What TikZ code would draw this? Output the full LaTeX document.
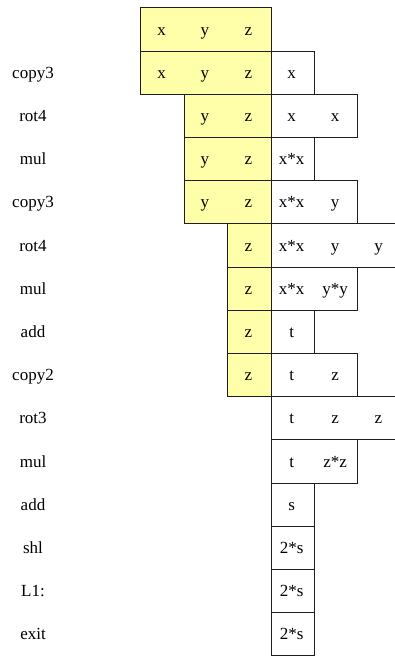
\documentclass[tikz,border=0pt]{standalone}
\usepackage{fontspec}
\setmainfont{Liberation Serif}
\definecolor{yfill}{RGB}{255,255,170}
\definecolor{edge}{RGB}{30,30,30}
\begin{document}
\begin{tikzpicture}[x=1pt,y=-1pt,
  ybox/.style={draw=edge, fill=yfill, line width=1.1pt, minimum height=43.2pt, inner sep=0pt, anchor=north west},
  wbox/.style={draw=edge, fill=white, line width=1.1pt, minimum height=43.2pt, inner sep=0pt, anchor=north west},
  cell/.style={inner sep=0pt, anchor=base, font=\fontsize{17}{20}\selectfont},
  lab/.style={inner sep=0pt, anchor=base, font=\fontsize{17}{20}\selectfont}]
\useasboundingbox (0,0) rectangle (395,656);
% boxes: row / label / yellow start col / yellow count / white count
\foreach \i/\lab/\ys/\yn/\wn in {
  0/{}/0/3/0, 1/copy3/0/3/1, 2/rot4/1/2/2, 3/mul/1/2/1, 4/copy3/1/2/2,
  5/rot4/2/1/3, 6/mul/2/1/2, 7/add/2/1/1, 8/copy2/2/1/2, 9/rot3/3/0/3,
  10/mul/3/0/2, 11/add/3/0/1, 12/shl/3/0/1, 13/L1:/3/0/1, 14/exit/3/0/1} {
  \pgfmathsetmacro{\ytop}{7.3+43.2*\i}
  \pgfmathsetmacro{\yb}{35+43.2*\i}
  \pgfmathsetmacro{\yx}{140.3+43.4*\ys}
  \pgfmathsetmacro{\yw}{43.4*\yn}
  \pgfmathsetmacro{\ww}{43.4*\wn}
  \ifnum\yn>0
    \node[ybox, minimum width=\yw pt] (y\i) at (\yx,\ytop) {};
  \fi
  \ifnum\wn>0
    \node[wbox, minimum width=\ww pt] (w\i) at (270.5,\ytop) {};
  \fi
  \node[lab] (l\i) at (33,\yb) {\lab};
}
% cell texts: row / column / text
\foreach \i/\j/\t in {
  0/0/x, 0/1/y, 0/2/z,
  1/0/x, 1/1/y, 1/2/z, 1/3/x,
  2/1/y, 2/2/z, 2/3/x, 2/4/x,
  3/1/y, 3/2/z, 3/3/x*x,
  4/1/y, 4/2/z, 4/3/x*x, 4/4/y,
  5/2/z, 5/3/x*x, 5/4/y, 5/5/y,
  6/2/z, 6/3/x*x, 6/4/y*y,
  7/2/z, 7/3/t,
  8/2/z, 8/3/t, 8/4/z,
  9/3/t, 9/4/z, 9/5/z,
  10/3/t, 10/4/z*z,
  11/3/s,
  12/3/2*s,
  13/3/2*s,
  14/3/2*s} {
  \pgfmathsetmacro{\yb}{35+43.2*\i}
  \pgfmathsetmacro{\xc}{161.5+43.4*\j}
  \node[cell] (t\i-\j) at (\xc,\yb) {\t};
}
\end{tikzpicture}
\end{document}
